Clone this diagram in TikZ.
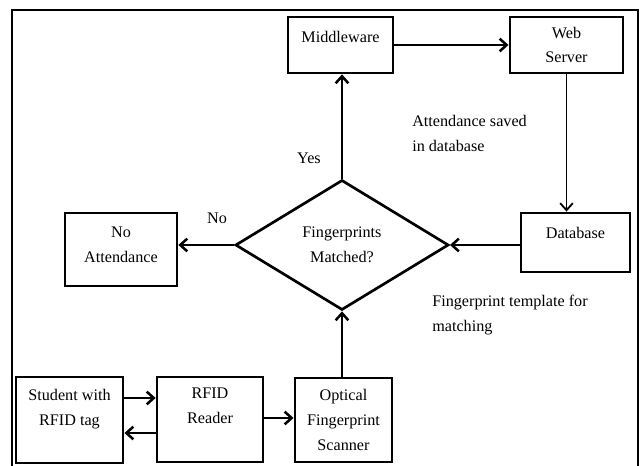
\documentclass[tikz,border=0pt]{standalone}
\usepackage{fontspec}
\setmainfont{Liberation Serif}
\usetikzlibrary{shapes.geometric,arrows.meta}

\begin{document}
\begin{tikzpicture}[x=0.025cm,y=-0.025cm,font=\fontsize{11.5}{17.5}\selectfont,
  box/.style={rectangle,draw,line width=1.9pt,align=center,inner sep=0pt},
  link/.style={-{Straight Barb[length=5pt,width=9pt]},line width=1.8pt}]
\useasboundingbox (0,0) rectangle (641,466);
\draw [line width=1.3pt] (12,466) -- (12,10) -- (638,10) -- (638,466);
\node [box,minimum width=2.63cm,minimum height=1.4cm,text depth=12.1pt] (mw) at (340.5,45) {Middleware};
\node [box,minimum width=2.83cm,minimum height=1.4cm] (ws) at (566.5,45) {Web\\Server};
\node [box,minimum width=2.73cm,minimum height=1.48cm,text depth=14.3pt] (db) at (575.5,242.5) {Database};
\node [diamond,draw,line width=1.9pt,align=center,inner sep=0pt,
  minimum width=5.33cm,minimum height=3.25cm] (d) at (342,245) {Fingerprints\\Matched?};
\node [box,minimum width=2.8cm,minimum height=1.83cm,text depth=6.5pt] (na) at (121,249.5) {No\\Attendance};
\node [box,minimum width=2.68cm,minimum height=2.15cm,text depth=18pt] (st) at (69.5,420) {Student with\\RFID tag};
\node [box,minimum width=2.65cm,minimum height=2.13cm,text depth=19.9pt] (rf) at (210,419.5) {RFID\\Reader};
\node [box,minimum width=2.43cm,minimum height=2.1cm] (sc) at (343.5,420) {Optical\\Fingerprint\\Scanner};
\node (yes) at (309,158) {Yes};
\node (no) at (217,218) {No};
\node [anchor=north west,align=left,inner sep=0pt] (saved) at (412,115) {Attendance saved\\in database};
\node [anchor=north west,align=left,inner sep=0pt] (tmpl) at (432,295) {Fingerprint template for\\matching};
\draw [link] (d.north) -- (d.north |- mw.south);
\draw [link] (mw) -- (ws);
\draw [link,line width=1.3pt] (ws.south) -- (ws.south |- db.north);
\draw [link] (db.west |- d.east) -- (d.east);
\draw [link] (d.west) -- (d.west -| na.east);
\draw [link] (d.south |- sc.north) -- (d.south);
\draw [link] (st.east |- 0,398) -- (rf.west |- 0,398);
\draw [link] (rf.west |- 0,433) -- (st.east |- 0,433);
\draw [link] (rf.east |- 0,418) -- (sc.west |- 0,418);
\end{tikzpicture}
\end{document}
